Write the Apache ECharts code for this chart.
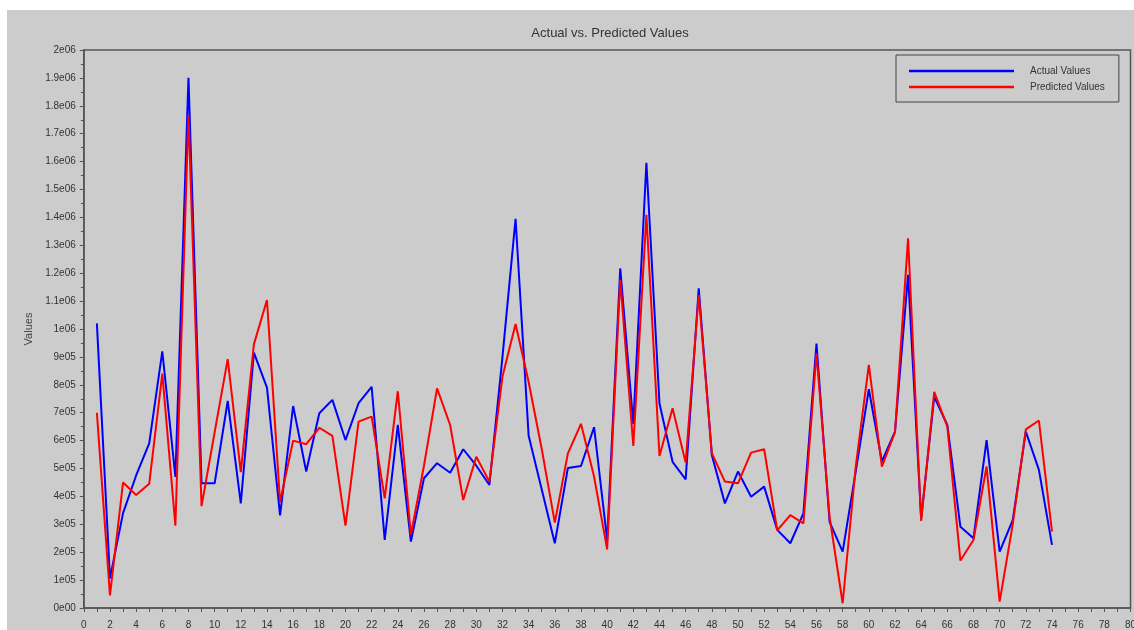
<!DOCTYPE html>
<html>
<head>
<meta charset="utf-8">
<script src="https://cdn.jsdelivr.net/npm/echarts@6/dist/echarts.min.js"></script>
<style>
  html, body { margin: 0; padding: 0; background: #ffffff; }
  #chart { position: absolute; left: 7px; top: 10px; width: 1127px; height: 620px; }
</style>
</head>
<body>
<div id="chart"></div>
<script>
const xs = [1,2,3,4,5,6,7,8,9,10,11,12,13,14,15,16,17,18,19,20,21,22,23,24,25,26,27,28,29,30,31,32,33,34,35,36,37,38,39,40,41,42,43,44,45,46,47,48,49,50,51,52,53,54,55,56,57,58,59,60,61,62,63,64,65,66,67,68,69,70,71,72,73,74];

const actualValues = [
  1020000, 106000, 340000, 475000, 590000, 920000, 470000, 1900000, 447000, 447000,
  742000, 375000, 915000, 790000, 332000, 724000, 489000, 698000, 746000, 602000,
  734000, 793000, 244000, 656000, 238000, 465000, 519000, 485000, 569000, 510000,
  441000, 900000, 1395000, 617000, 425000, 232000, 502000, 509000, 648000, 244000,
  1217000, 660000, 1596000, 733000, 524000, 461000, 1146000, 548000, 375000, 489000,
  399000, 435000, 280000, 232000, 339000, 948000, 309000, 202000, 490000, 784000,
  525000, 632000, 1194000, 320000, 757000, 656000, 291000, 250000, 602000, 202000,
  315000, 632000, 495000, 226000
];

const predictedValues = [
  700000, 45000, 450000, 405000, 445000, 840000, 295000, 1767000, 365000, 630000,
  892000, 487000, 945000, 1104000, 380000, 600000, 587000, 646000, 617000, 295000,
  668000, 686000, 393000, 777000, 262000, 510000, 787000, 656000, 387000, 542000,
  453000, 830000, 1018000, 810000, 570000, 306000, 554000, 660000, 471000, 210000,
  1176000, 581000, 1409000, 545000, 716000, 521000, 1122000, 555000, 453000, 447000,
  557000, 569000, 278000, 333000, 303000, 913000, 327000, 17000, 507000, 871000,
  507000, 630000, 1325000, 312000, 775000, 650000, 170000, 244000, 507000, 23000,
  300000, 640000, 672000, 274000
];

const seriesNames = ['Actual Values', 'Predicted Values'];
const seriesColors = ['#0000ff', '#ff0000'];
const titleText = 'Actual vs. Predicted Values';
const yAxisName = 'Values';

function sciLabel(v) {
  if (v === 0) return '0e00';
  const e = Math.floor(Math.log10(v) + 1e-9);
  let m = Math.round(v / Math.pow(10, e) * 10) / 10;
  let ms = (m % 1 === 0) ? String(m) : m.toFixed(1);
  const es = e < 10 ? '0' + e : String(e);
  return ms + 'e' + es;
}

const chart = echarts.init(document.getElementById('chart'), null, { renderer: 'canvas' });
const font = 'Liberation Sans, Arial, sans-serif';
const axisColor = '#555555';

chart.setOption({
  backgroundColor: '#cccccc',
  animation: false,
  title: {
    text: titleText,
    left: 598,
    textAlign: 'center',
    top: 12,
    textStyle: { fontFamily: font, fontSize: 13, fontWeight: 'normal', color: '#333333' }
  },
  legend: {
    orient: 'vertical',
    left: 889,
    top: 45,
    padding: [11, 14, 10, 13],
    borderColor: '#444444',
    borderWidth: 1,
    icon: 'rect',
    itemWidth: 105,
    itemHeight: 2.5,
    itemGap: 6,
    textStyle: { fontFamily: font, fontSize: 10, color: '#333333', padding: [0, 0, 0, 11] },
    data: seriesNames
  },
  grid: {
    left: 76.8, right: 3.5, top: 40, bottom: 22,
    outerBoundsMode: 'none',
    containLabel: false,
    show: true, borderColor: axisColor, borderWidth: 1.5, backgroundColor: 'transparent'
  },
  xAxis: {
    type: 'value',
    min: 0, max: 80, interval: 2,
    axisLine: { show: true, lineStyle: { color: axisColor, width: 1.5 } },
    axisTick: { show: true, length: 4, lineStyle: { color: axisColor } },
    minorTick: { show: true, splitNumber: 2, length: 4, lineStyle: { color: axisColor } },
    splitLine: { show: false },
    axisLabel: { fontFamily: font, fontSize: 10, color: '#333333', margin: 12, showMaxLabel: true }
  },
  yAxis: {
    type: 'value',
    min: 0, max: 2000000, interval: 100000,
    name: yAxisName,
    nameLocation: 'middle',
    nameGap: 46,
    nameTextStyle: { fontFamily: font, fontSize: 11, color: '#444444' },
    axisLine: { show: true, lineStyle: { color: axisColor, width: 1.5 } },
    axisTick: { show: true, length: 4, lineStyle: { color: axisColor } },
    minorTick: { show: true, splitNumber: 2, length: 3, lineStyle: { color: axisColor } },
    splitLine: { show: false },
    axisLabel: { fontFamily: font, fontSize: 10, color: '#333333', margin: 8, formatter: sciLabel }
  },
  series: [
    {
      name: seriesNames[0],
      type: 'line',
      data: xs.map((x, i) => [x, actualValues[i]]),
      symbol: 'none',
      color: seriesColors[0],
      lineStyle: { color: seriesColors[0], width: 2 }
    },
    {
      name: seriesNames[1],
      type: 'line',
      data: xs.map((x, i) => [x, predictedValues[i]]),
      symbol: 'none',
      color: seriesColors[1],
      lineStyle: { color: seriesColors[1], width: 2 }
    }
  ]
});
</script>
</body>
</html>
